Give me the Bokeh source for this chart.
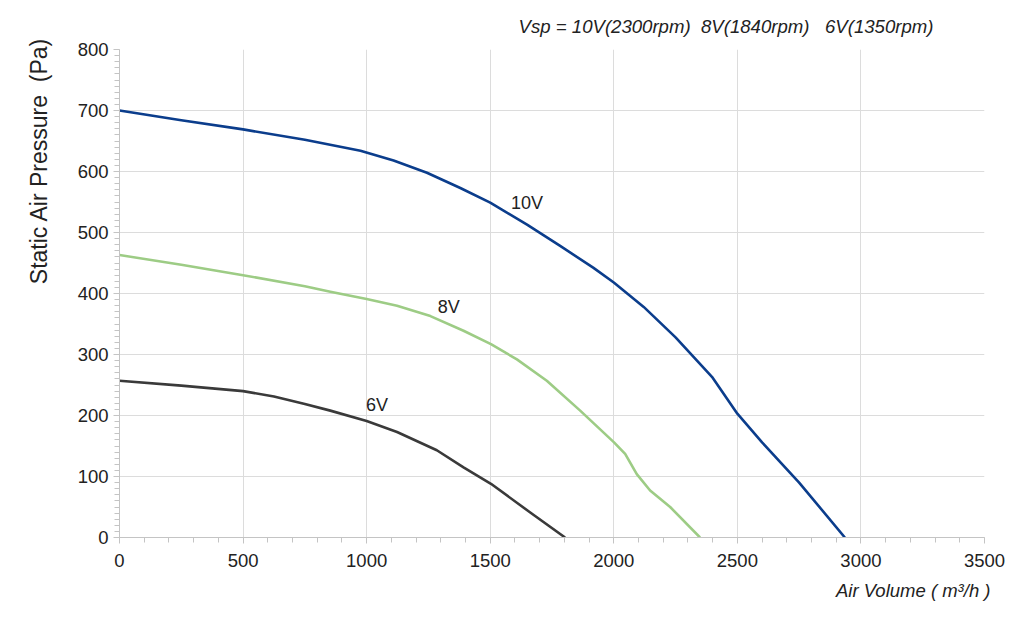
from bokeh.plotting import figure
from bokeh.models import SingleIntervalTicker, Label, Title
from bokeh.embed import file_html
from bokeh.resources import INLINE

# fan curves (air volume m3/h, static pressure Pa)
x10 = [0, 250, 500, 750, 975, 1109, 1244, 1379, 1500, 1649, 1783, 1918, 2000, 2121, 2250, 2400, 2500, 2600, 2750, 2935]
y10 = [700, 684, 669, 652, 634, 618, 598, 573, 549, 513, 478, 442, 418, 378, 328, 262, 203, 156, 90, 0]

x8 = [0, 250, 500, 750, 853, 1000, 1123, 1258, 1392, 1503, 1608, 1729, 1864, 2001, 2046, 2093, 2147, 2228, 2349]
y8 = [463, 447, 430, 412, 403, 391, 380, 363, 339, 317, 292, 257, 208, 156, 137, 104, 77, 50, 0]

x6 = [0, 250, 500, 625, 750, 853, 1000, 1123, 1284, 1392, 1503, 1662, 1803]
y6 = [257, 249, 240, 231, 219, 208, 191, 173, 143, 115, 88, 41, 0]

curve_names = ["10V", "8V", "6V"]
label_pos = [(1649, 549), (1332, 378), (1042, 217)]
colors = ["#0b3d8c", "#9dcc85", "#3a3a3a"]

# non-breaking spaces keep the wide gaps of the original
title_text = "Vsp = 10V(2300rpm)\u00a0\u00a08V(1840rpm)\u00a0\u00a0\u00a06V(1350rpm)"
x_label = "Air Volume ( m\u00b3/h )"
y_label = "Static Air Pressure\u00a0\u00a0(Pa)"

FONT = "Liberation Sans"

p = figure(frame_width=865, frame_height=488, x_range=(0, 3500), y_range=(0, 800),
           output_backend="svg", toolbar_location=None,
           min_border_left=119, min_border_right=32, min_border_top=49, min_border_bottom=80)
p.outline_line_color = None
p.background_fill_color = "white"

p.xaxis.ticker = SingleIntervalTicker(interval=500, num_minor_ticks=5)
p.yaxis.ticker = SingleIntervalTicker(interval=100, num_minor_ticks=10)
for ax in (p.xaxis, p.yaxis):
    ax.axis_line_color = "#c4c4c4"
    ax.major_tick_line_color = "#c4c4c4"
    ax.minor_tick_line_color = "#c4c4c4"
    ax.major_tick_in = 0
    ax.major_tick_out = 6
    ax.minor_tick_in = 0
    ax.minor_tick_out = 5
    ax.major_label_text_font = FONT
    ax.major_label_text_font_size = "18.5px"
    ax.major_label_text_color = "#222222"
p.xaxis.major_label_standoff = 10
p.yaxis.major_label_standoff = 5

p.grid.grid_line_color = "#dcdcdc"
p.grid.grid_line_width = 1

for xs, ys, c in zip([x10, x8, x6], [y10, y8, y6], colors):
    p.line(xs, ys, line_color=c, line_width=2.6, line_join="round")

for name, (lx, ly) in zip(curve_names, label_pos):
    p.add_layout(Label(x=lx, y=ly, text=name, text_font=FONT, text_font_size="18px",
                       text_color="#222222", text_align="center", text_baseline="middle"))

p.add_layout(Title(text=title_text, align="right", offset=51, standoff=25,
                   text_font=FONT, text_font_size="18.6px", text_font_style="italic",
                   text_color="#222222"), "above")
p.add_layout(Title(text=x_label, align="right", offset=-6, standoff=16,
                   text_font=FONT, text_font_size="18.5px", text_font_style="italic",
                   text_color="#222222"), "below")
p.add_layout(Title(text=y_label, align="right", offset=-12, standoff=45,
                   text_font=FONT, text_font_size="23px", text_font_style="normal",
                   text_color="#222222"), "left")

open("out.html", "w").write(file_html(p, INLINE))
